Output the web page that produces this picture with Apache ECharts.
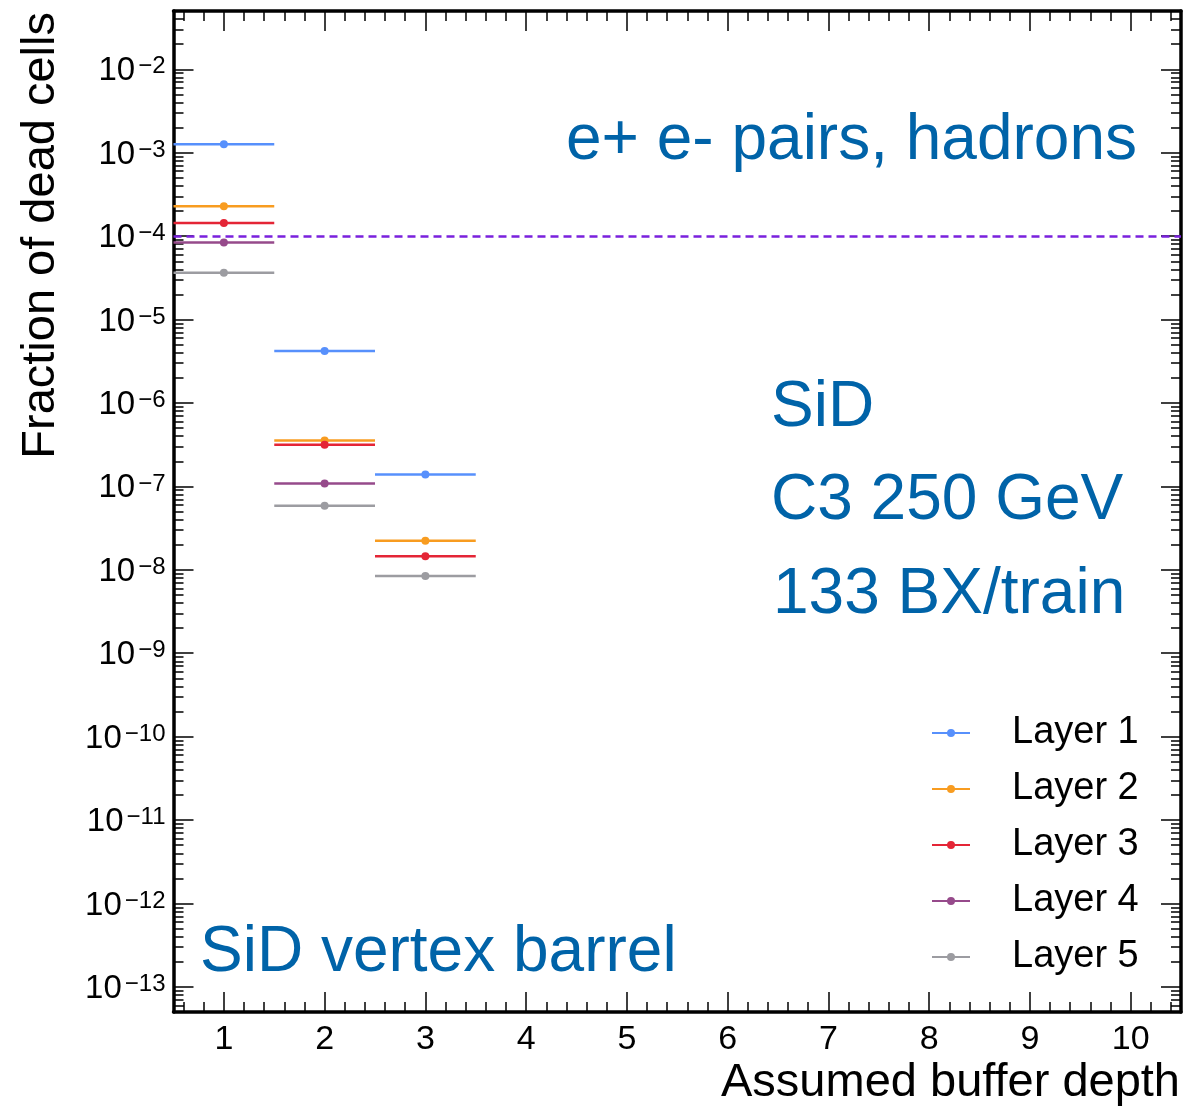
<!DOCTYPE html>
<html>
<head>
<meta charset="utf-8">
<title>SiD vertex barrel - fraction of dead cells</title>
<script src="https://cdn.jsdelivr.net/npm/echarts@6/dist/echarts.min.js"></script>
<style>
  html, body { margin: 0; padding: 0; background: #fff; }
  #chart { width: 1184px; height: 1110px; }
</style>
</head>
<body>
<div id="chart"></div>
<script>
// buffer depth bins that have entries
const depths = [1, 2, 3];
const layerNames = ["Layer 1", "Layer 2", "Layer 3", "Layer 4", "Layer 5"];
// fraction of dead cells per layer, one value per depth bin
const layer1 = [1.26e-3, 4.2e-6, 1.39e-7];
const layer2 = [2.28e-4, 3.56e-7, 2.23e-8];
const layer3 = [1.44e-4, 3.16e-7, 1.45e-8];
const layer4 = [8.4e-5, 1.08e-7, null];
const layer5 = [3.65e-5, 5.86e-8, 8.4e-9];
const threshold = 1e-4;

const xTicks = [1, 2, 3, 4, 5, 6, 7, 8, 9, 10];
const yDecades = [-13, -12, -11, -10, -9, -8, -7, -6, -5, -4, -3, -2];
const xRange = [0.5, 10.5];
const yRange = [5e-14, 5e-2];

const layerColors = ["#5790fc", "#f89c20", "#e42536", "#964a8b", "#9c9ca1"];
const textBlue = "#0063a8";
const font = "'Liberation Sans', Arial, Helvetica, sans-serif";

const yMin = Math.log10(yRange[0]);
const yMax = Math.log10(yRange[1]);

// minor tick positions
const xMinor = [];
for (let k = 3; k <= 52; k++) {
  if (k % 5 !== 0) xMinor.push(Math.round(k * 2) / 10);
}
const yMinor = [];
for (let d = -14; d <= -1; d++) {
  for (let m = 2; m <= 9; m++) {
    const v = d + Math.log10(m);
    if (v > yMin && v < yMax) yMinor.push(v);
  }
}

const binHalf = 0.5;
function renderStep(params, api) {
  const x = api.value(0);
  const y = api.value(1);
  const p0 = api.coord([x - binHalf, y]);
  const p1 = api.coord([x + binHalf, y]);
  const pc = api.coord([x, y]);
  const color = api.visual("color");
  return {
    type: "group",
    children: [
      {
        type: "line",
        shape: { x1: p0[0], y1: p0[1], x2: p1[0], y2: p1[1] },
        style: { stroke: color, lineWidth: 2.5 },
      },
      {
        type: "circle",
        shape: { cx: pc[0], cy: pc[1], r: 4 },
        style: { fill: color },
      },
    ],
  };
}

const layers = [layer1, layer2, layer3, layer4, layer5];
const series = layers.map((vals, i) => ({
  name: layerNames[i],
  type: "custom",
  xAxisIndex: 0,
  yAxisIndex: 0,
  renderItem: renderStep,
  encode: { x: 0, y: 1 },
  itemStyle: { color: layerColors[i] },
  data: depths
    .map((d, j) => (vals[j] == null ? null : [d, Math.log10(vals[j])]))
    .filter((p) => p !== null),
}));

series.push({
  name: "threshold",
  type: "line",
  xAxisIndex: 0,
  yAxisIndex: 0,
  data: [],
  markLine: {
    silent: true,
    symbol: "none",
    label: { show: false },
    lineStyle: { color: "#7a21dd", type: [8, 5], width: 2.5 },
    data: [{ yAxis: Math.log10(threshold) }],
  },
});

function xAxisOf(position, ticks, len, showLine, showLabel) {
  return {
    type: "value",
    position: position,
    min: xRange[0],
    max: xRange[1],
    axisLine: { show: showLine, onZero: false, lineStyle: { color: "#000", width: 3.5 } },
    axisTick: { show: true, inside: true, length: len, customValues: ticks, lineStyle: { color: "#000", width: 1.5 } },
    axisLabel: {
      show: showLabel,
      customValues: xTicks,
      margin: 11,
      color: "#000",
      fontSize: 34,
      fontFamily: font,
    },
    splitLine: { show: false },
  };
}

function yAxisOf(position, ticks, len, showLine, showLabel) {
  return {
    type: "value",
    position: position,
    min: yMin,
    max: yMax,
    axisLine: { show: showLine, onZero: false, lineStyle: { color: "#000", width: 3.5 } },
    axisTick: { show: true, inside: true, length: len, customValues: ticks, lineStyle: { color: "#000", width: 1.5 } },
    axisLabel: {
      show: showLabel,
      customValues: yDecades,
      margin: 8,
      padding: [4, 0, 0, 0],
      color: "#000",
      fontFamily: font,
      formatter: (v) => "{a|10}{b|\u2212" + Math.round(-v) + "}",
      rich: {
        a: { fontSize: 33, lineHeight: 33, fontFamily: font, color: "#000" },
        b: { fontSize: 24, lineHeight: 14, verticalAlign: "top", padding: [0, 0, 0, 3], fontFamily: font, color: "#000" },
      },
    },
    splitLine: { show: false },
  };
}

const chart = echarts.init(document.getElementById("chart"));
chart.setOption({
  backgroundColor: "#fff",
  animation: false,
  grid: {
    left: 173.5,
    right: 3,
    top: 11,
    bottom: 98,
    outerBoundsMode: "none",
  },
  legend: {
    data: layerNames,
    orient: "vertical",
    left: 927,
    top: 708,
    itemWidth: 38,
    itemHeight: 8,
    itemGap: 16,
    icon: "path://M0,3 L38,3 L38,5 L0,5 Z M15,4 A4,4 0 1 1 23,4 A4,4 0 1 1 15,4 Z",
    textStyle: {
      fontSize: 38,
      lineHeight: 40,
      color: "#000",
      fontFamily: font,
      padding: [0, 0, 0, 37],
    },
  },
  xAxis: [
    xAxisOf("bottom", xTicks, 20, true, true),
    xAxisOf("bottom", xMinor, 10, false, false),
    xAxisOf("top", xTicks, 20, true, false),
    xAxisOf("top", xMinor, 10, false, false),
  ],
  yAxis: [
    yAxisOf("left", yDecades, 20, true, true),
    yAxisOf("left", yMinor, 10, false, false),
    yAxisOf("right", yDecades, 20, true, false),
    yAxisOf("right", yMinor, 10, false, false),
  ],
  series: series,
  graphic: [
    {
      type: "text", x: 1137, y: 141, z: 10,
      style: { text: "e+ e- pairs, hadrons", fill: textBlue, font: "64px " + font, textAlign: "right", textVerticalAlign: "middle" },
    },
    {
      type: "text", x: 771, y: 408, z: 10,
      style: { text: "SiD", fill: textBlue, font: "64px " + font, textAlign: "left", textVerticalAlign: "middle" },
    },
    {
      type: "text", x: 771, y: 501, z: 10,
      style: { text: "C3 250 GeV", fill: textBlue, font: "64px " + font, textAlign: "left", textVerticalAlign: "middle" },
    },
    {
      type: "text", x: 773, y: 595, z: 10,
      style: { text: "133 BX/train", fill: textBlue, font: "64px " + font, textAlign: "left", textVerticalAlign: "middle" },
    },
    {
      type: "text", x: 200, y: 953, z: 10,
      style: { text: "SiD vertex barrel", fill: textBlue, font: "64px " + font, textAlign: "left", textVerticalAlign: "middle" },
    },
    {
      type: "text", x: 41, y: 12, rotation: Math.PI / 2, z: 10,
      style: { text: "Fraction of dead cells", fill: "#000", font: "47px " + font, textAlign: "right", textVerticalAlign: "middle" },
    },
    {
      type: "text", x: 1180, y: 1083, z: 10,
      style: { text: "Assumed buffer depth", fill: "#000", font: "47px " + font, textAlign: "right", textVerticalAlign: "middle" },
    },
  ],
});
</script>
</body>
</html>
